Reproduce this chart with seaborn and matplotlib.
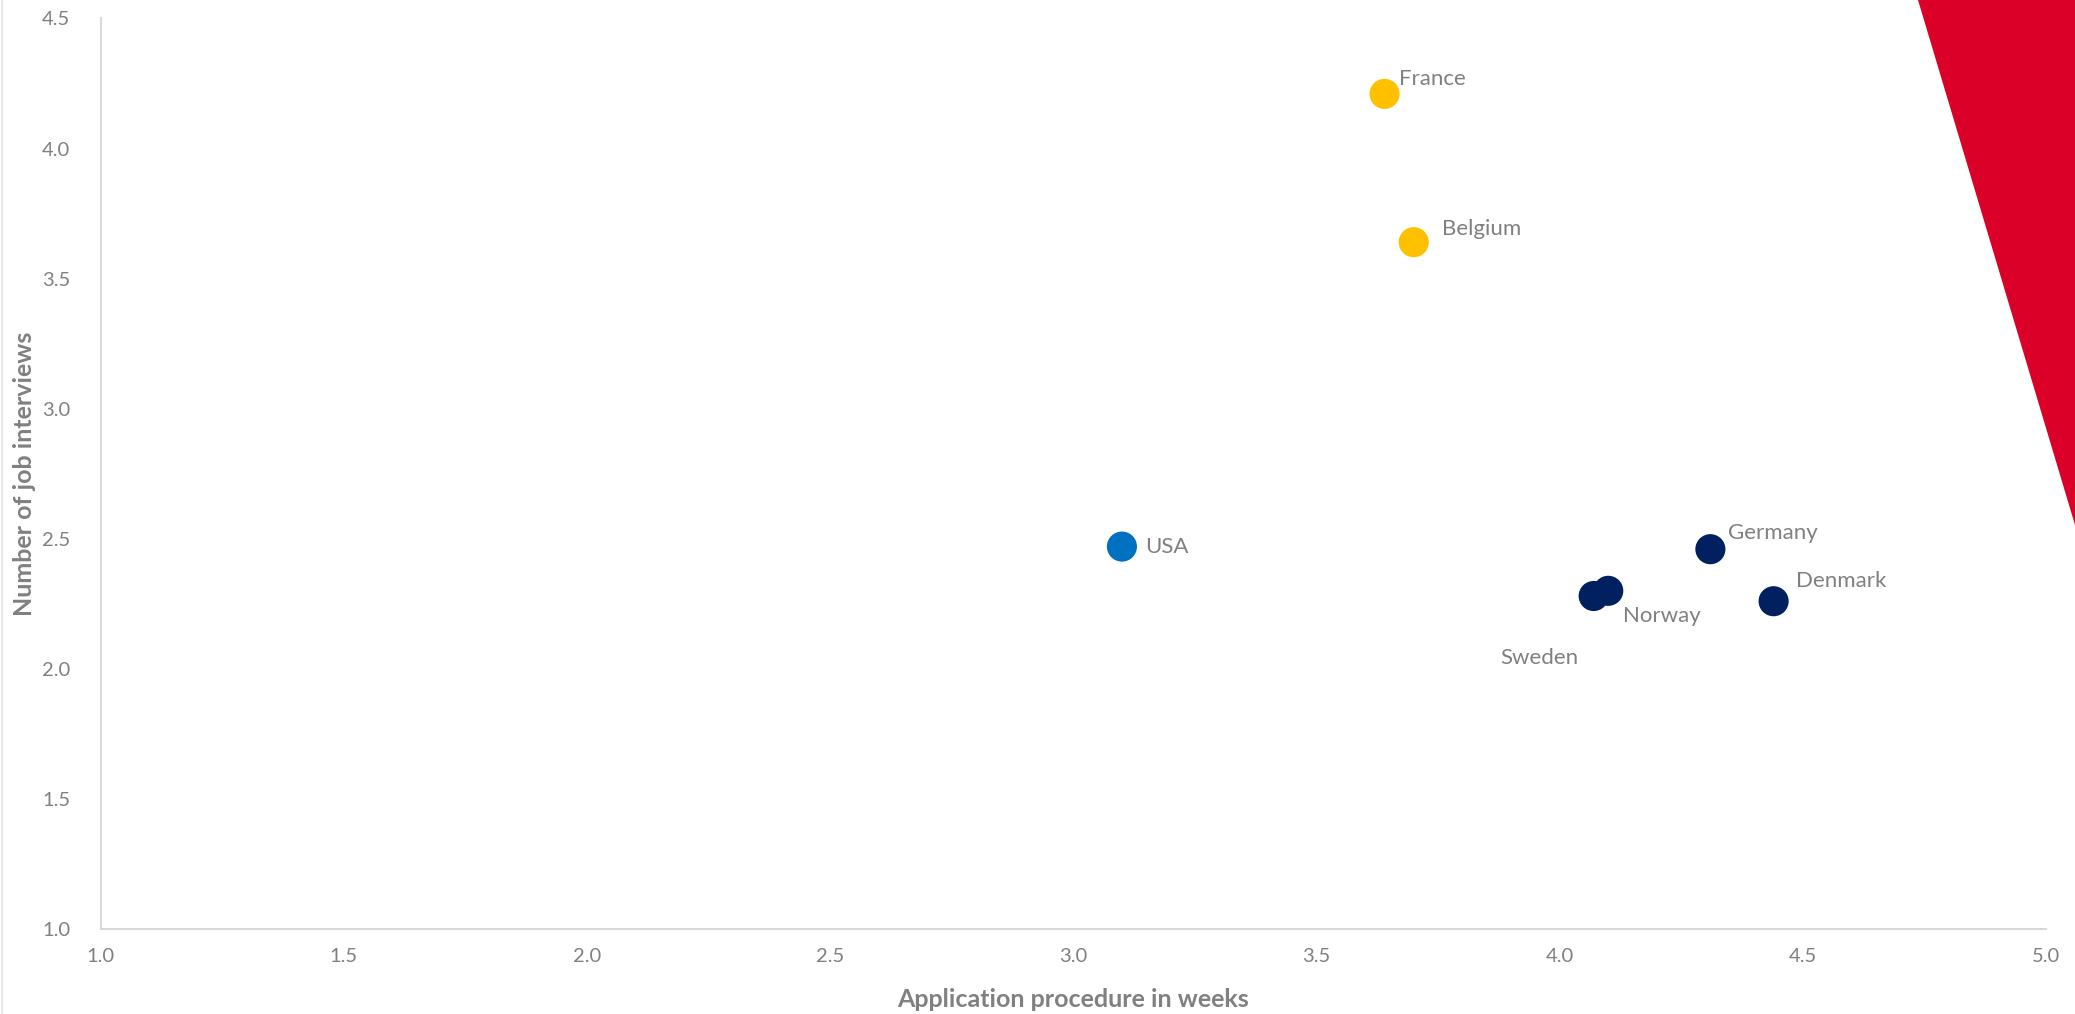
import matplotlib
matplotlib.use("Agg")
import matplotlib.pyplot as plt
import seaborn as sns
import pandas as pd
from matplotlib.patches import Polygon
from matplotlib.lines import Line2D

# Country data: application procedure length vs. number of job interviews
countries = ["France", "Belgium", "USA", "Germany", "Denmark", "Sweden", "Norway"]
weeks = [3.64, 3.70, 3.10, 4.31, 4.44, 4.07, 4.10]
interviews = [4.21, 3.64, 2.47, 2.46, 2.26, 2.28, 2.30]
region = ["Western", "Western", "America", "Nordic", "Nordic", "Nordic", "Nordic"]

x_ticks = [1.0, 1.5, 2.0, 2.5, 3.0, 3.5, 4.0, 4.5, 5.0]
y_ticks = [1.0, 1.5, 2.0, 2.5, 3.0, 3.5, 4.0, 4.5]

palette = {"Western": "#FFC000", "America": "#0070C0", "Nordic": "#002060"}

# Label offsets in pixels relative to each point
label_offsets = {
    "France": (14, 15),
    "Belgium": (28, 13),
    "USA": (23, 0),
    "Germany": (18, 16),
    "Denmark": (22, 20),
    "Sweden": (-93, -62),
    "Norway": (15, -25),
}

df = pd.DataFrame({"country": countries, "weeks": weeks,
                   "interviews": interviews, "region": region})

sns.set_style("white")
plt.rcParams["font.family"] = ["Lato", "DejaVu Sans"]

fig = plt.figure(figsize=(20.75, 10.14), dpi=100)
ax = fig.add_axes([0.0485, 0.0838, 0.986 - 0.0485, 0.9818 - 0.0838])

sns.scatterplot(data=df, x="weeks", y="interviews", hue="region",
                palette=palette, s=470, edgecolor="none", legend=False,
                ax=ax, zorder=3)

text_grey = "#808080"
for c, xv, yv in zip(countries, weeks, interviews):
    dx, dy = label_offsets[c]
    ax.annotate(c, (xv, yv), xytext=(dx, dy), textcoords="offset pixels",
                ha="left", va="center", fontsize=16, color=text_grey)

ax.set_xlim(1.0, 5.0)
ax.set_ylim(1.0, 4.5)
ax.set_xticks(x_ticks)
ax.set_yticks(y_ticks)
ax.set_xticklabels([f"{v:.1f}" for v in x_ticks])
ax.set_yticklabels([f"{v:.1f}" for v in y_ticks])
ax.tick_params(axis="both", length=0, labelsize=14.5, colors=text_grey)
ax.tick_params(axis="x", pad=14)
ax.tick_params(axis="y", pad=22)

for side in ["top", "right"]:
    ax.spines[side].set_visible(False)
for side in ["left", "bottom"]:
    ax.spines[side].set_color("#D9D9D9")
    ax.spines[side].set_linewidth(1.5)

ax.set_xlabel("Application procedure in weeks", fontsize=18, fontweight="bold",
              color=text_grey, labelpad=16)
ax.set_ylabel("Number of job interviews", fontsize=18, fontweight="bold",
              color=text_grey, labelpad=4)

# Red corner accent in the upper right
W, H = 2075, 1014
tri = Polygon([(1918 / W, 1.0), (1.0, 1.0), (1.0, 1 - 525 / H)],
              closed=True, transform=fig.transFigure, facecolor="#DA0027",
              edgecolor="none", zorder=0)
fig.patches.append(tri)

# Thin page border on the left edge
fig.lines.append(Line2D([0.0008, 0.0008], [0, 1], transform=fig.transFigure,
                        color="#E3E3E3", linewidth=1.2))

fig.savefig("out.png", dpi=100)
